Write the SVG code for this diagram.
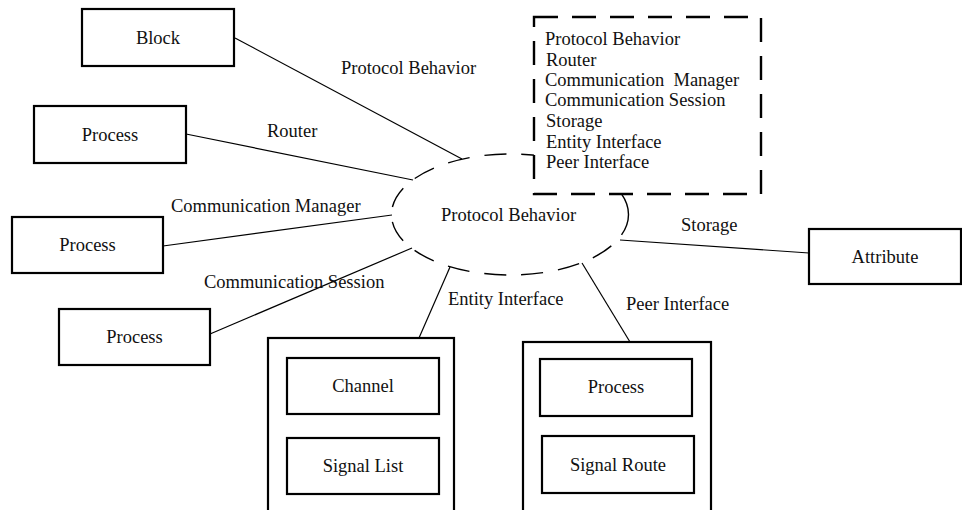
<svg xmlns="http://www.w3.org/2000/svg" width="962" height="510" viewBox="0 0 962 510" font-family="'Liberation Serif', 'DejaVu Serif', serif">
  <style>
    text { font-family: 'Liberation Serif', 'DejaVu Serif', serif; font-size: 18.5px; fill: #111; }
    .mid { text-anchor: middle; }
    .pre { white-space: pre; }
    .box { fill: #fff; stroke: #000; stroke-width: 2.2; }
    .conn { fill: none; stroke: #000; stroke-width: 1.2; }
    .oval { fill: none; stroke: #000; stroke-width: 1.4; stroke-dasharray: 22 15; }
    .note { fill: #fff; stroke: #000; stroke-width: 2.4; stroke-dasharray: 24 14; }
  </style>

  <!-- connectors -->
  <g id="connectors">
    <line class="conn" x1="235" y1="38" x2="462" y2="159"/>
    <line class="conn" x1="186" y1="134" x2="413" y2="180"/>
    <line class="conn" x1="163" y1="246" x2="392" y2="215"/>
    <line class="conn" x1="210" y1="334" x2="412" y2="248"/>
    <line class="conn" x1="809" y1="253" x2="620" y2="240"/>
    <line class="conn" x1="450" y1="267" x2="419" y2="338"/>
    <line class="conn" x1="582" y1="263" x2="630" y2="342"/>
    <text x="341" y="74">Protocol Behavior</text>
    <text x="267" y="137">Router</text>
    <text x="171" y="212">Communication Manager</text>
    <text x="204" y="288">Communication Session</text>
    <text x="681" y="231">Storage</text>
    <text x="448" y="305">Entity Interface</text>
    <text x="626" y="310">Peer Interface</text>
  </g>

  <!-- central behaviour -->
  <g id="protocol-behavior">
    <ellipse class="oval" cx="510" cy="214.5" rx="118.5" ry="60.5"/>
    <text x="441" y="221">Protocol Behavior</text>
  </g>

  <!-- legend list -->
  <g id="legend">
    <rect class="note" x="534" y="17" width="227" height="177"/>
    <text x="545" y="45">Protocol Behavior</text>
    <text x="546" y="66">Router</text>
    <text class="pre" x="545" y="86">Communication  Manager</text>
    <text x="545" y="106">Communication Session</text>
    <text x="546" y="127">Storage</text>
    <text x="546" y="148">Entity Interface</text>
    <text x="546" y="168">Peer Interface</text>
  </g>

  <g id="block">
    <rect class="box" x="82" y="9" width="152" height="57"/>
    <text class="mid" x="158" y="44">Block</text>
  </g>
  <g id="process-router">
    <rect class="box" x="34" y="106" width="152" height="57"/>
    <text class="mid" x="110" y="141">Process</text>
  </g>
  <g id="process-manager">
    <rect class="box" x="12" y="217" width="151" height="56"/>
    <text class="mid" x="87.5" y="251">Process</text>
  </g>
  <g id="process-session">
    <rect class="box" x="59" y="309" width="151" height="56"/>
    <text class="mid" x="134.5" y="343">Process</text>
  </g>
  <g id="attribute">
    <rect class="box" x="809" y="229" width="152" height="55"/>
    <text class="mid" x="885" y="263">Attribute</text>
  </g>

  <g id="entity-interface">
    <rect class="box" x="268" y="338" width="186" height="190"/>
    <rect class="box" x="287" y="358" width="152" height="56"/>
    <text class="mid" x="363" y="392">Channel</text>
    <rect class="box" x="287" y="438" width="152" height="56"/>
    <text class="mid" x="363" y="472">Signal List</text>
  </g>

  <g id="peer-interface">
    <rect class="box" x="523" y="342" width="188" height="186"/>
    <rect class="box" x="540" y="359" width="152" height="57"/>
    <text class="mid" x="616" y="393">Process</text>
    <rect class="box" x="542" y="436" width="152" height="57"/>
    <text class="mid" x="618" y="471">Signal Route</text>
  </g>
</svg>
